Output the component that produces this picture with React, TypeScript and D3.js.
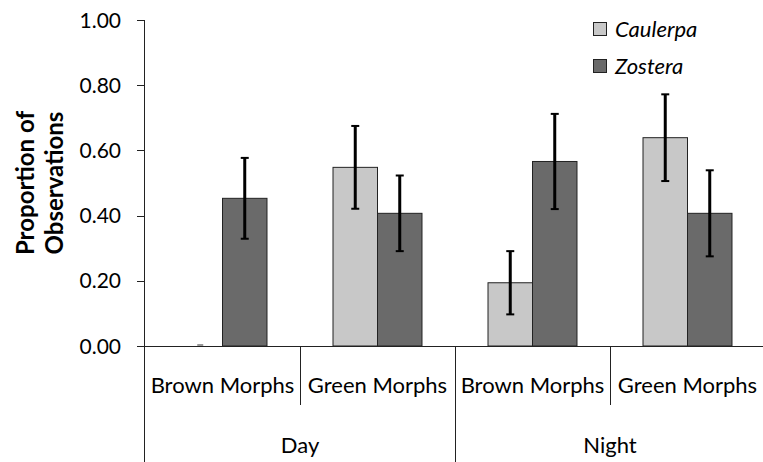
import React from "react";
import * as d3 from "d3";

const categories = ["Day|Brown Morphs", "Day|Green Morphs", "Night|Brown Morphs", "Night|Green Morphs"];
const subLabels = ["Brown Morphs", "Green Morphs", "Brown Morphs", "Green Morphs"];
const groups = ["Day", "Night"];
const series = ["Caulerpa", "Zostera"];
const caulerpa = [0.0, 0.548, 0.194, 0.639];
const zostera = [0.453, 0.407, 0.566, 0.407];
const caulerpaErr = [0, 0.127, 0.097, 0.133];
const zosteraErr = [0.124, 0.116, 0.146, 0.132];
const yTicks = [0, 0.2, 0.4, 0.6, 0.8, 1.0];

const W = 763;
const H = 462;
const FONT = "Lato, 'Open Sans', sans-serif";

export default function App() {
  const x0 = 145;
  const x1 = 765;
  const yTop = 20;
  const yBase = 346;
  const x = d3.scaleBand<string>().domain(categories).range([x0, x1]).padding(0);
  const xs = d3.scaleBand<string>().domain(series).range([0, x.bandwidth()]).paddingInner(0).paddingOuter(0.742);
  const y = d3.scaleLinear().domain([0, 1]).range([yBase, yTop]);
  const colors = ["#c8c8c8", "#6a6a6a"];
  const vals = [caulerpa, zostera];
  const errs = [caulerpaErr, zosteraErr];

  return (
    <svg width={W} height={H} style={{ display: "block", position: "absolute", left: 0, top: 0 }} fontFamily={FONT}>
      <rect width={W} height={H} fill="#fff" />
      {/* bars */}
      {categories.map((c, i) =>
        series.map((s, k) => {
          const v = vals[k][i];
          const bx = (x(c) as number) + (xs(s) as number);
          const bw = xs.bandwidth();
          const cx = bx + bw / 2;
          const e = errs[k][i];
          return (
            <g key={c + s}>
              {v > 0 ? (
                <rect x={bx} y={y(v)} width={bw} height={yBase - y(v)} fill={colors[k]} stroke="#222" strokeWidth={1} />
              ) : (
                <line x1={cx - 3} x2={cx + 3} y1={yBase - 1} y2={yBase - 1} stroke="#333" strokeWidth={1} />
              )}
              {e > 0 && (
                <g stroke="#000">
                  <line x1={cx} x2={cx} y1={y(v + e)} y2={y(v - e)} strokeWidth={3} />
                  <line x1={cx - 4} x2={cx + 4} y1={y(v + e)} y2={y(v + e)} strokeWidth={2} />
                  <line x1={cx - 4} x2={cx + 4} y1={y(v - e)} y2={y(v - e)} strokeWidth={2} />
                </g>
              )}
            </g>
          );
        })
      )}
      {/* y axis */}
      <line x1={144.5} x2={144.5} y1={yTop} y2={H} stroke="#222" strokeWidth={1} />
      {yTicks.map((t) => (
        <g key={t}>
          <line x1={137} x2={144.5} y1={Math.round(y(t)) + 0.5} y2={Math.round(y(t)) + 0.5} stroke="#222" />
          <text x={121} y={y(t)} dy="0.36em" textAnchor="end" fontSize={21} fill="#000">
            {t.toFixed(2)}
          </text>
        </g>
      ))}
      {/* x axis */}
      <line x1={144.5} x2={W} y1={yBase + 0.5} y2={yBase + 0.5} stroke="#222" />
      {categories.map((c, i) => {
        const cx = (x(c) as number) + x.bandwidth() / 2;
        return (
          <text key={c} x={cx} y={393} textAnchor="middle" fontSize={22} fill="#000">
            {subLabels[i]}
          </text>
        );
      })}
      {categories.slice(1).map((c, i) => {
        const px = Math.round(x(c) as number) + 0.5;
        const major = i === 1;
        return <line key={c} x1={px} x2={px} y1={yBase} y2={major ? H : 405} stroke="#222" />;
      })}
      {groups.map((g, gi) => {
        const a = x(categories[gi * 2]) as number;
        const cx = a + x.bandwidth();
        return (
          <text key={g} x={cx} y={453} textAnchor="middle" fontSize={22} fill="#000">
            {g}
          </text>
        );
      })}
      {/* y title */}
      <g transform="translate(39,183) rotate(-90)">
        <text x={0} y={-14} dy="0.36em" textAnchor="middle" fontSize={24} fontWeight="bold" fill="#000">
          Proportion of
        </text>
        <text x={0} y={15} dy="0.36em" textAnchor="middle" fontSize={24} fontWeight="bold" fill="#000">
          Observations
        </text>
      </g>
      {/* legend */}
      {series.map((s, k) => (
        <g key={s} transform={`translate(593,${22 + k * 37})`}>
          <rect x={0.5} y={0.5} width={13} height={13} fill={colors[k]} stroke="#222" />
          <text x={22} y={15} fontSize={22} fontStyle="italic" fill="#000">
            {s}
          </text>
        </g>
      ))}
    </svg>
  );
}
